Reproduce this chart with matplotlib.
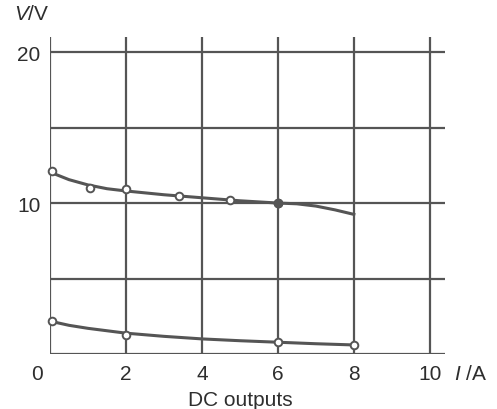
import matplotlib.pyplot as plt

plt.rcParams['font.family'] = ['Liberation Sans', 'DejaVu Sans']
plt.rcParams['mathtext.fontset'] = 'custom'
plt.rcParams['mathtext.it'] = 'Liberation Sans:italic'
plt.rcParams['mathtext.rm'] = 'Liberation Sans'

INK = '#555555'
TXT = '#2e2e2e'
FS = 15

# measured points (current in A, voltage in V)
upper_i = [0.05, 1.05, 2.0, 3.4, 4.75, 6.0]
upper_v = [12.1, 11.0, 10.9, 10.5, 10.2, 10.0]
# hand drawn curve through the upper points
upper_curve_i = [0.05, 0.5, 1.0, 1.5, 2.0, 3.0, 4.0, 5.0, 6.0, 6.5, 7.0, 7.5, 8.0]
upper_curve_v = [12.0, 11.55, 11.2, 10.95, 10.8, 10.55, 10.35, 10.15, 10.0, 9.95, 9.8, 9.55, 9.25]

lower_i = [0.05, 2.0, 6.0, 8.0]
lower_v = [2.2, 1.25, 0.8, 0.6]
lower_curve_i = [0.05, 0.5, 1.0, 2.0, 3.0, 4.0, 5.0, 6.0, 7.0, 8.0]
lower_curve_v = [2.15, 1.9, 1.7, 1.38, 1.17, 1.0, 0.88, 0.78, 0.68, 0.6]

filled_i = [6.0]
filled_v = [10.0]

x_ticks = [2, 4, 6, 8, 10]
y_ticks = [10, 20]
x_grid = [0, 2, 4, 6, 8, 10]
y_grid = [0, 5, 10, 15, 20]

fig = plt.figure(figsize=(4.97, 4.10), dpi=100)
ax = fig.add_axes([50 / 497, 55 / 410, 395 / 497, 317 / 410])
ax.set_xlim(0, 10.4)
ax.set_ylim(0, 21)

for x in x_grid:
    ax.axvline(x, color=INK, lw=1.6, zorder=1)
for y in y_grid:
    ax.axhline(y, color=INK, lw=1.6, zorder=1)

ax.plot(upper_curve_i, upper_curve_v, color=INK, lw=2.2, zorder=2)
ax.plot(lower_curve_i, lower_curve_v, color=INK, lw=2.2, zorder=2)
ax.plot(upper_i, upper_v, 'o', ms=5.5, mfc='white', mec=INK, mew=1.4, zorder=3, clip_on=False)
ax.plot(lower_i, lower_v, 'o', ms=5.5, mfc='white', mec=INK, mew=1.4, zorder=3, clip_on=False)
ax.plot(filled_i, filled_v, 'o', ms=6, color=INK, zorder=4)

for s in ax.spines.values():
    s.set_visible(False)

ax.set_xticks(x_ticks)
ax.set_yticks(y_ticks)
ax.tick_params(length=0, labelsize=FS, colors=TXT, pad=7)

ax.text(-0.35, -0.65, '0', ha='center', va='top', fontsize=FS, color=TXT)
ax.text(-0.95, 21.9, '$V$/V', ha='left', va='bottom', fontsize=FS, color=TXT)
ax.text(10.65, -0.65, '$I$ /A', ha='left', va='top', fontsize=FS, color=TXT)
fig.text(240 / 497, 9 / 410, 'DC outputs', ha='center', va='center', fontsize=FS, color=TXT)

fig.savefig('out.png', dpi=100)
